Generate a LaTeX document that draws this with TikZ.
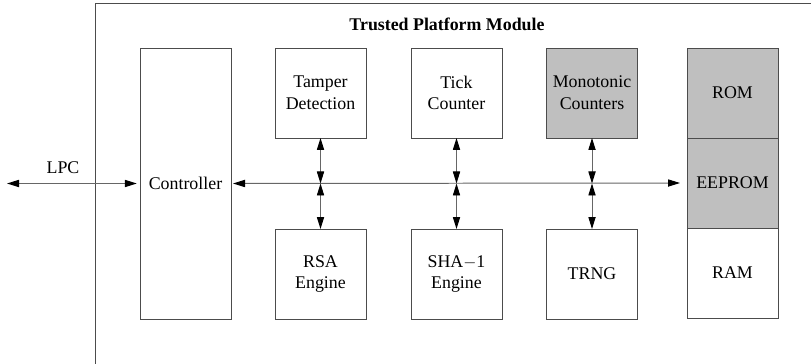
\documentclass[tikz,border=0pt]{standalone}
\usepackage{fontspec}
\setmainfont{Liberation Serif}
\usepackage{tikz}
\usetikzlibrary{positioning,calc,arrows.meta}

\begin{document}
\begin{tikzpicture}[
        font=\fontsize{12.7}{15.5}\selectfont,
        line width=0.7pt,
        block/.style={draw=black!70, minimum width=2.275cm, minimum height=2.25cm, inner sep=0pt, outer sep=0pt, align=center},
        shaded/.style={block, fill=black!25},
        link/.style={draw=black!60, {Triangle[length=0.3cm,width=0.18cm,color=black]}-{Triangle[length=0.3cm,width=0.18cm,color=black]}}
    ]
        \useasboundingbox (0,0) rectangle (20.275,-9.1);

        % TPM frame
        \draw[black!70] (20.4,-0.08) -- (2.375,-0.08) -- (2.375,-9.2);
        \node[font=\fontsize{12.7}{15.5}\selectfont\bfseries] (title) at (11.175,-0.62) {Trusted Platform Module};

        % Controller
        \node[block, minimum height=6.775cm] (ctrl) at (4.6375,-4.5875) {Controller};

        % units above the bus
        \node[block] (tamper) at (8.0125,-2.325) {Tamper\\Detection};
        \node[block] (tick) at (11.4125,-2.325) {Tick\\Counter};
        \node[shaded] (mono) at (14.8,-2.325) {Monotonic\\Counters};

        % units below the bus
        \node[block] (rsa) at (8.0125,-6.85) {RSA\\Engine};
        \node[block] (sha) at (11.4125,-6.85) {SHA$-$1\\Engine};
        \node[block] (trng) at (14.8,-6.85) {TRNG};

        % memory
        \node[shaded] (rom) at (18.3125,-2.325) {ROM};
        \node[shaded, below=0pt of rom] (eeprom) {EEPROM};
        \node[block, below=0pt of eeprom] (ram) {RAM};

        % LPC and bus
        \coordinate (lpc) at (0.175,-4.5875);
        \draw[link] (lpc) -- ([xshift=-0.08cm]ctrl.west);
        \node (lpclabel) at (1.575,-4.2) {LPC};
        \draw[link] ([xshift=0.05cm]ctrl.east) -- ([xshift=-0.175cm]eeprom.west);

        \foreach \up/\down in {tamper/rsa, tick/sha, mono/trng} {
            \draw[link] (\up.south) -- (\up.south |- ctrl.east);
            \draw[link] (\down.north |- ctrl.east) -- (\down.north);
        }
    \end{tikzpicture}
\end{document}
